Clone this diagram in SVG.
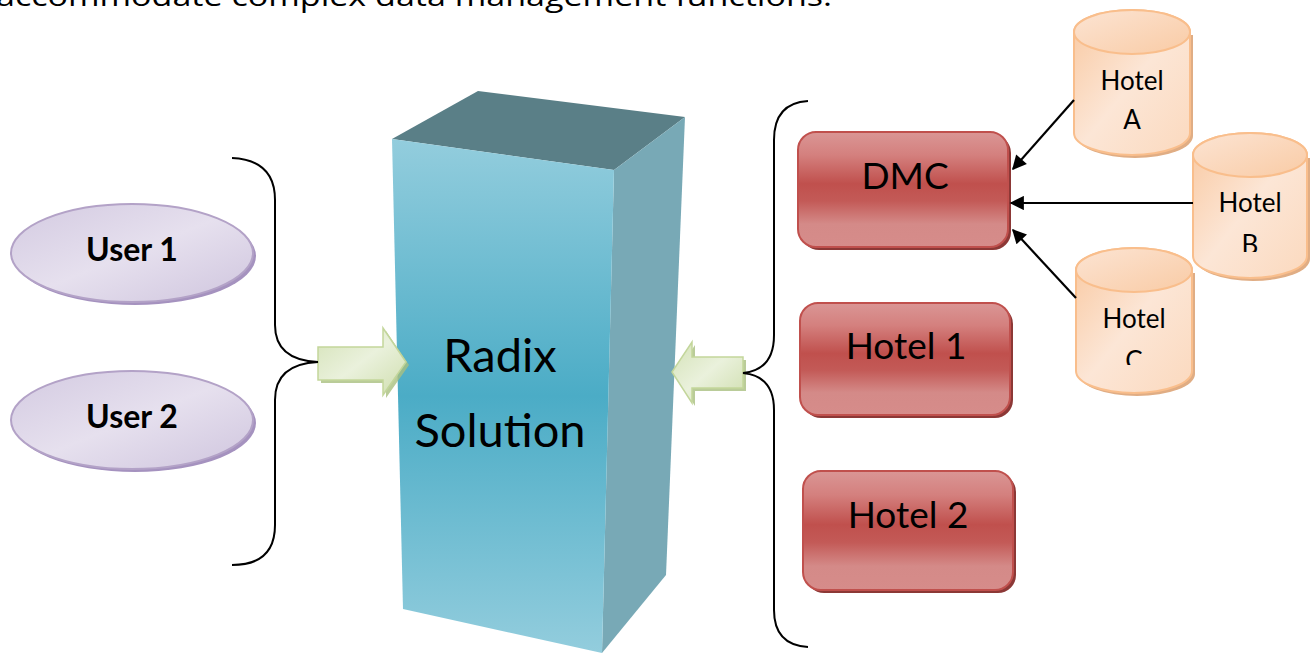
<svg xmlns="http://www.w3.org/2000/svg" width="1316" height="654" viewBox="0 0 1316 654">
<style>
.t{font-family:"Open Sans","DejaVu Sans",sans-serif;fill:#000}
.c{font-family:Lato,"Open Sans",sans-serif;fill:#000;text-anchor:middle}
.brace{fill:none;stroke:#000;stroke-width:2}
.conn{stroke:#000;stroke-width:2.2;fill:none;marker-end:url(#ah)}
</style>
<defs>
<marker id="ah" viewBox="0 0 10 10" refX="9" refY="5" markerWidth="7" markerHeight="6.5" orient="auto" markerUnits="strokeWidth">
<path d="M0,0 L10,5 L0,10 z" fill="#000"/>
</marker>
<linearGradient id="front" gradientUnits="userSpaceOnUse" x1="0" y1="139" x2="0" y2="653">
<stop offset="0" stop-color="#93CDDD"/>
<stop offset="0.5" stop-color="#4BACC6"/>
<stop offset="1" stop-color="#93CDDD"/>
</linearGradient>
<linearGradient id="purple" x1="0" y1="0" x2="1" y2="1">
<stop offset="0" stop-color="#D3CAE1"/>
<stop offset="0.5" stop-color="#E6E0EE"/>
<stop offset="1" stop-color="#CFC5DE"/>
</linearGradient>
<linearGradient id="green" x1="0" y1="0" x2="1" y2="1">
<stop offset="0" stop-color="#D4E2B7"/>
<stop offset="0.5" stop-color="#EAF1DC"/>
<stop offset="1" stop-color="#CFDEAE"/>
</linearGradient>
<linearGradient id="red" x1="0" y1="0" x2="0" y2="1">
<stop offset="0" stop-color="#DA9695"/>
<stop offset="0.2" stop-color="#D4807E"/>
<stop offset="0.45" stop-color="#C0504D"/>
<stop offset="0.6" stop-color="#C35A57"/>
<stop offset="0.8" stop-color="#D48A88"/>
<stop offset="1" stop-color="#D68C8A"/>
</linearGradient>
<linearGradient id="peach" x1="0" y1="0" x2="1" y2="1">
<stop offset="0" stop-color="#F9C8A0"/>
<stop offset="0.5" stop-color="#FCE6D6"/>
<stop offset="1" stop-color="#FBD9BE"/>
</linearGradient>
<linearGradient id="peachTop" x1="0" y1="0" x2="1" y2="1">
<stop offset="0" stop-color="#FCE4D3"/>
<stop offset="1" stop-color="#F9CBA5"/>
</linearGradient>
<clipPath id="clipB"><rect x="1190" y="0" width="126" height="252"/></clipPath>
<clipPath id="clipC"><rect x="1070" y="0" width="130" height="365"/></clipPath>
</defs>

<text class="t" x="-4" y="6" font-size="28" textLength="836" lengthAdjust="spacingAndGlyphs">accommodate complex data management functions.</text>

<g id="radix">
<polygon points="392,139 478,91 685,117 614,170" fill="#5A7F87"/>
<polygon points="614,170 685,117 666,575 602,653" fill="#78A9B6"/>
<polygon points="392,139 614,170 602,653 403,609" fill="url(#front)"/>
<text class="c" x="500" y="372" font-size="47">Radix</text>
<text class="c" x="500" y="447" font-size="47">Solution</text>
</g>

<g id="user1">
<ellipse cx="135" cy="256" rx="121" ry="49" fill="#A592BF"/>
<ellipse cx="132" cy="253" rx="121" ry="49" fill="url(#purple)" stroke="#B3A2C7" stroke-width="2"/>
<text class="c" x="132" y="261" font-size="32" font-weight="bold">User 1</text>
</g>
<g id="user2">
<ellipse cx="135" cy="423" rx="121" ry="49" fill="#A592BF"/>
<ellipse cx="132" cy="420" rx="121" ry="49" fill="url(#purple)" stroke="#B3A2C7" stroke-width="2"/>
<text class="c" x="132" y="428" font-size="32" font-weight="bold">User 2</text>
</g>

<g id="arrowLeft">
<polygon points="321,350 386,350 386,331 409,365 386,398 386,383 321,383" fill="#A9BF7F" opacity="0.8"/>
<polygon points="318,347 383,347 383,328 406,362 383,395 383,380 318,380" fill="url(#green)" stroke="#C3D69B" stroke-width="1.5"/>
</g>
<g id="arrowRight">
<polygon points="746,360 695,360 695,345 675,375 695,406 695,391 746,391" fill="#A9BF7F" opacity="0.8"/>
<polygon points="743,357 692,357 692,342 672,372 692,403 692,388 743,388" fill="url(#green)" stroke="#C3D69B" stroke-width="1.5"/>
</g>

<g id="dmc">
<rect x="801" y="135" width="210" height="115" rx="18" fill="#8C3836"/>
<rect x="798" y="132" width="210" height="115" rx="18" fill="url(#red)" stroke="#C0504D" stroke-width="2"/>
<text class="c" x="905" y="189" font-size="37">DMC</text>
</g>
<g id="hotel1">
<rect x="803" y="306" width="210" height="112" rx="18" fill="#8C3836"/>
<rect x="800" y="303" width="210" height="112" rx="18" fill="url(#red)" stroke="#C0504D" stroke-width="2"/>
<text class="c" x="906" y="359" font-size="37">Hotel 1</text>
</g>
<g id="hotel2">
<rect x="806" y="474" width="210" height="119" rx="18" fill="#8C3836"/>
<rect x="803" y="471" width="210" height="119" rx="18" fill="url(#red)" stroke="#C0504D" stroke-width="2"/>
<text class="c" x="908" y="528" font-size="37">Hotel 2</text>
</g>

<g id="hotelA">
<path d="M1077,35 v101 a58,22 0 0 0 116,0 v-101 z" fill="#E0AD84"/>
<path d="M1074,32 v101 a58,22 0 0 0 116,0 v-101 a58,22 0 0 0 -116,0 z" fill="url(#peach)" stroke="#F9BE8C" stroke-width="2"/>
<ellipse cx="1132" cy="32" rx="58" ry="22" fill="url(#peachTop)" stroke="#F9BE8C" stroke-width="2"/>
<text class="c" x="1132" y="90" font-size="26">Hotel</text>
<text class="c" x="1132" y="129" font-size="26">A</text>
</g>
<g id="hotelB">
<path d="M1196,158 v101 a57,22 0 0 0 114,0 v-101 z" fill="#E0AD84"/>
<path d="M1193,155 v101 a57,22 0 0 0 114,0 v-101 a57,22 0 0 0 -114,0 z" fill="url(#peach)" stroke="#F9BE8C" stroke-width="2"/>
<ellipse cx="1250" cy="155" rx="57" ry="22" fill="url(#peachTop)" stroke="#F9BE8C" stroke-width="2"/>
<text class="c" x="1250" y="212" font-size="26">Hotel</text>
<text class="c" x="1250" y="254" font-size="26" clip-path="url(#clipB)">B</text>
</g>
<g id="hotelC">
<path d="M1079,273 v101 a58,22 0 0 0 116,0 v-101 z" fill="#E0AD84"/>
<path d="M1076,270 v101 a58,22 0 0 0 116,0 v-101 a58,22 0 0 0 -116,0 z" fill="url(#peach)" stroke="#F9BE8C" stroke-width="2"/>
<ellipse cx="1134" cy="270" rx="58" ry="22" fill="url(#peachTop)" stroke="#F9BE8C" stroke-width="2"/>
<text class="c" x="1134" y="328" font-size="26">Hotel</text>
<text class="c" x="1134" y="370" font-size="26" clip-path="url(#clipC)">C</text>
</g>

<g id="connectors">
<path class="brace" d="M232,158 Q275,160 275,200 V325 Q275,360 318,362 Q275,364 275,400 V525 Q275,565 232,565"/>
<path class="brace" d="M808,101 Q774,103 774,140 V335 Q774,370 743,373 Q774,376 774,410 V610 Q774,645 808,647"/>
<path class="conn" d="M1074,100 L1013,169"/>
<path class="conn" d="M1193,203 L1011,203"/>
<path class="conn" d="M1076,298 L1013,230"/>
</g>
</svg>
